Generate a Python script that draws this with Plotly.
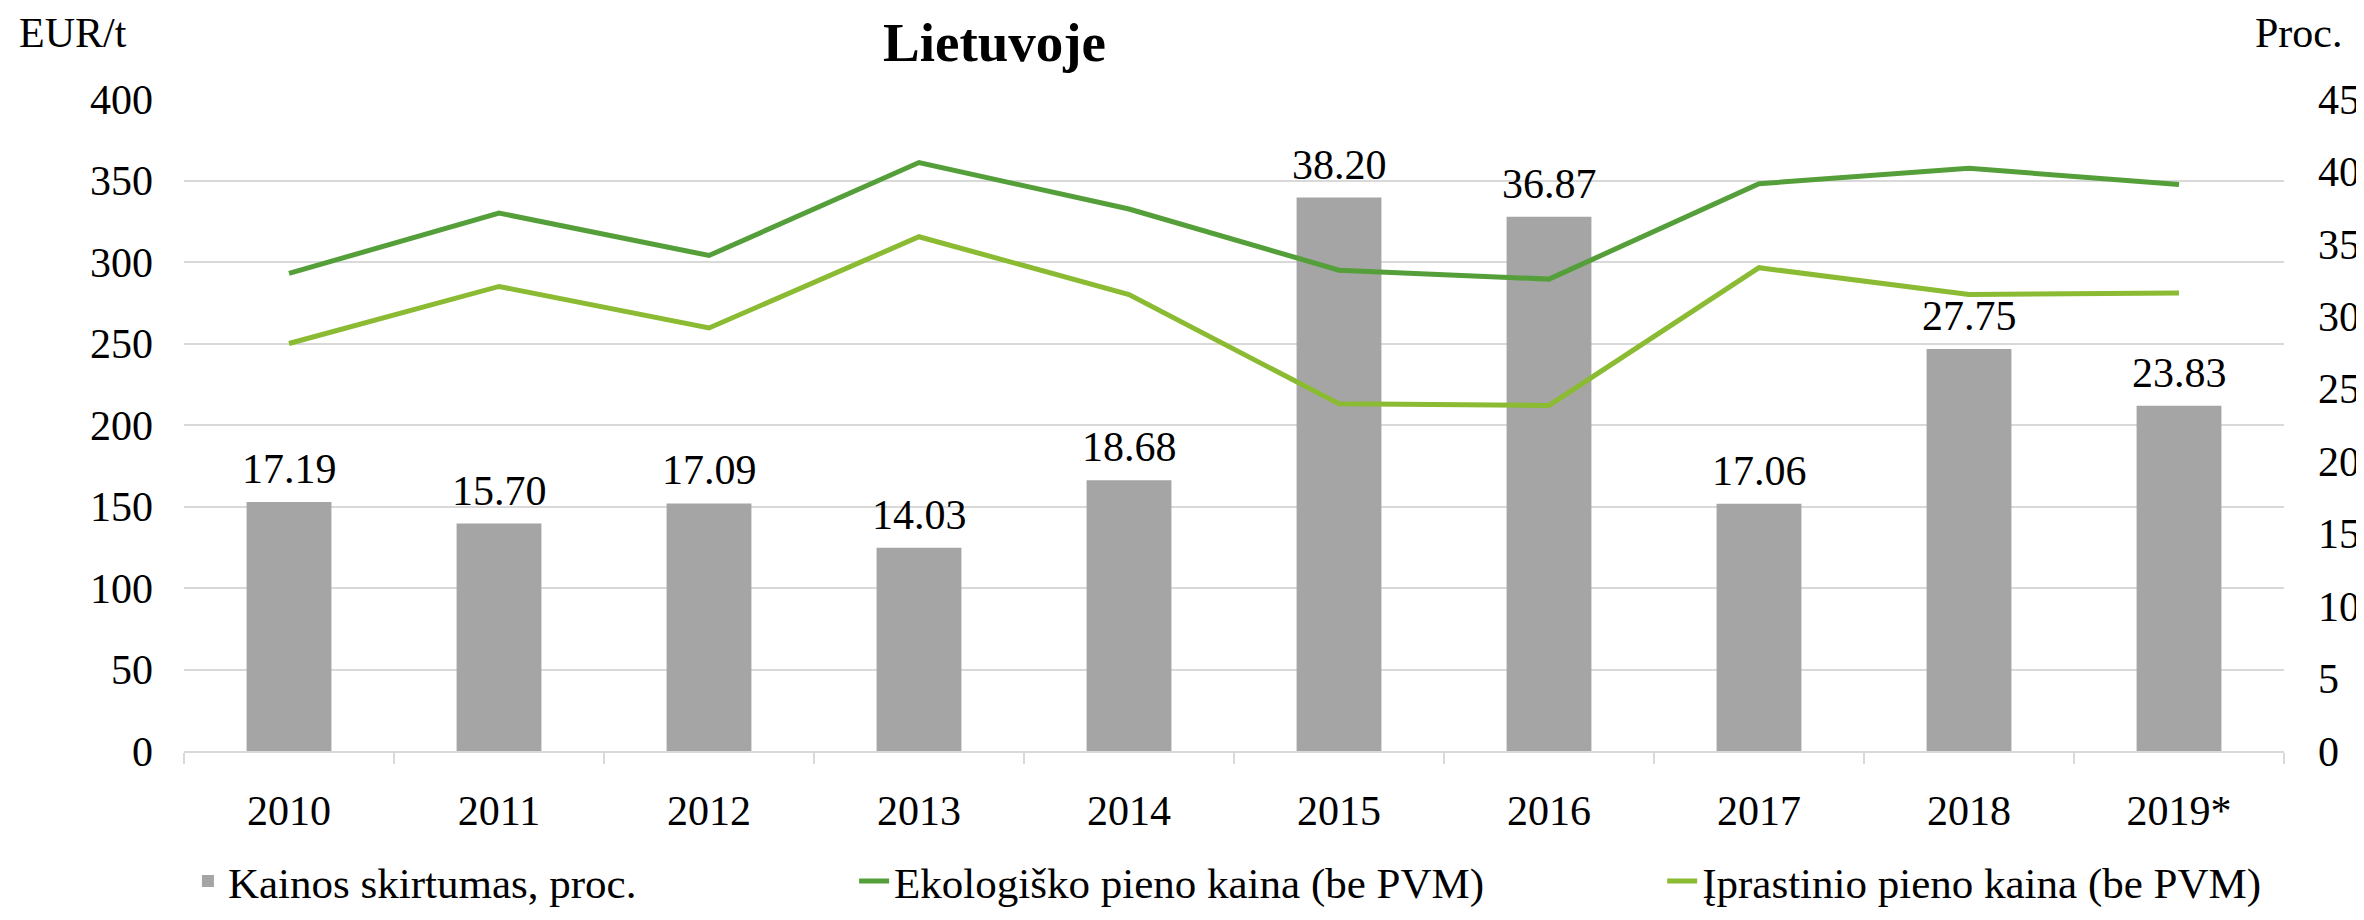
import plotly.graph_objects as go

years = ["2010", "2011", "2012", "2013", "2014", "2015", "2016", "2017", "2018", "2019*"]
diff_pct = [17.19, 15.70, 17.09, 14.03, 18.68, 38.20, 36.87, 17.06, 27.75, 23.83]
eko_price = [293, 330, 304, 361, 332.5, 295, 289.5, 348, 357.5, 347.5]
ipr_price = [250, 285, 259.5, 315.5, 280, 213, 212, 296.5, 280, 281]

price_max, price_step = 400, 50
pct_max, pct_step = 45, 5

W, H = 2364, 920
L, R, T, B = 176, 57, 91, 157
PW, PH = W - L - R, H - T - B

def px_x(x):
    return (x - L) / PW

def px_y(y):
    return (H - B - y) / PH

FONT = "Liberation Serif, Times New Roman, serif"
FS = 42
LFS = 43
GRID = "#d9d9d9"
C_BAR = "#a5a5a5"
C_EKO = "#559f3a"
C_IPR = "#8bba33"

fig = go.Figure()
# bars on the base axis (right-hand, percent) so the price lines are drawn over them
fig.add_trace(go.Bar(
    x=years, y=diff_pct, name="Kainos skirtumas, proc.", yaxis="y",
    marker=dict(color=C_BAR, line=dict(width=0)), legend="legend",
))
fig.add_trace(go.Scatter(
    x=years, y=eko_price, name="Ekologiško pieno kaina (be PVM)", mode="lines",
    line=dict(color=C_EKO, width=5), yaxis="y2", legend="legend2",
))
fig.add_trace(go.Scatter(
    x=years, y=ipr_price, name="Įprastinio pieno kaina (be PVM)", mode="lines",
    line=dict(color=C_IPR, width=5), yaxis="y2", legend="legend3",
))

annotations = []
for i, v in enumerate(diff_pct):
    annotations.append(dict(
        x=i, y=v, xref="x", yref="y", text=f"{v:.2f}", showarrow=False,
        xanchor="center", yanchor="bottom", yshift=8,
        font=dict(family=FONT, size=FS, color="black"),
    ))

annotations.append(dict(
    x=px_x(998), y=px_y(33), xref="paper", yref="paper", text="<b>Lietuvoje</b>",
    showarrow=False, xanchor="center", yanchor="middle",
    font=dict(family=FONT, size=55, color="black"),
))
annotations.append(dict(
    x=px_x(7), y=px_y(23), xref="paper", yref="paper", text="EUR/t",
    showarrow=False, xanchor="left", yanchor="middle",
    font=dict(family=FONT, size=FS, color="black"),
))
annotations.append(dict(
    x=px_x(2276), y=px_y(23), xref="paper", yref="paper", text="Proc.",
    showarrow=False, xanchor="left", yanchor="middle",
    font=dict(family=FONT, size=FS, color="black"),
))

legend_common = dict(
    orientation="h", xanchor="left", yanchor="middle",
    font=dict(family=FONT, size=LFS, color="black"),
    bgcolor="rgba(0,0,0,0)", borderwidth=0,
)

# grid lines follow the price-axis ticks, expressed in percent-axis units
grid_vals = [v * pct_max / price_max for v in range(0, price_max + 1, price_step)]

fig.update_layout(
    width=W, height=H,
    margin=dict(l=L, r=R, t=T, b=B, pad=0),
    paper_bgcolor="white", plot_bgcolor="white",
    bargap=0.596,
    showlegend=True,
    legend=dict(x=px_x(180), y=px_y(897), **legend_common),
    legend2=dict(x=px_x(856), y=px_y(897), **legend_common),
    legend3=dict(x=px_x(1676), y=px_y(897), **legend_common),
    xaxis=dict(
        type="category", categoryorder="array", categoryarray=years,
        range=[-0.5, len(years) - 0.5], autorange=False,
        showline=True, linecolor=GRID, linewidth=2,
        ticks="outside", tickson="boundaries", ticklen=11, tickcolor=GRID, tickwidth=2,
        tickfont=dict(family=FONT, size=FS, color="black"), ticklabelstandoff=22,
        showgrid=False, zeroline=False,
    ),
    yaxis=dict(
        range=[0, pct_max], dtick=pct_step, tick0=0, side="right",
        showgrid=False, showline=False, zeroline=False, ticks="",
        minor=dict(tickmode="array", tickvals=grid_vals, showgrid=True,
                   gridcolor=GRID, gridwidth=2, ticks=""),
        tickfont=dict(family=FONT, size=FS, color="black"), ticklabelstandoff=33,
    ),
    yaxis2=dict(
        range=[0, price_max], dtick=price_step, tick0=0, overlaying="y", side="left",
        showgrid=False, showline=False, zeroline=False, ticks="",
        tickfont=dict(family=FONT, size=FS, color="black"), ticklabelstandoff=30,
    ),
    annotations=annotations,
)

fig.write_html("out.html")
